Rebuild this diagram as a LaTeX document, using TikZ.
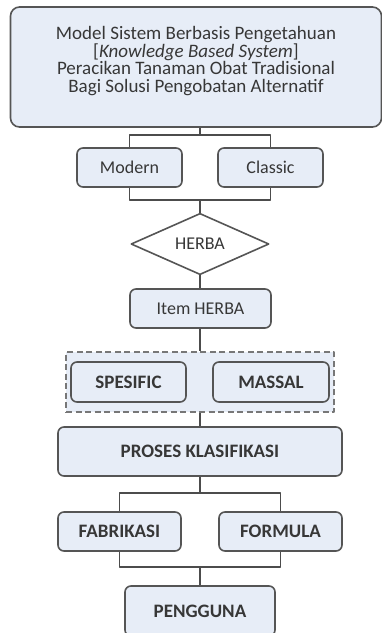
\documentclass[tikz,border=0pt]{standalone}
\usepackage{fontspec}
\setmainfont{Carlito}
\usetikzlibrary{shapes.geometric,positioning}

\begin{document}
\begin{tikzpicture}[x=1pt,y=-1pt,line join=round]
  % Colors
  \definecolor{boxfill}{RGB}{231,237,247}
  \definecolor{boxline}{RGB}{85,85,85}
  \definecolor{textcolor}{RGB}{55,55,55}

  % Styles
  \tikzstyle{box}=[draw=boxline,line width=1.6pt,fill=boxfill,rounded corners=6pt,
    inner sep=0pt,text=textcolor,font=\fontsize{18}{20}\selectfont]
  \tikzstyle{bold box}=[box,font=\fontsize{19}{21}\selectfont\bfseries]
  \tikzstyle{link}=[draw=boxline!90!black,line width=1.7pt]

  \useasboundingbox (0,0) rectangle (382,633);
  \clip (0,0) rectangle (382,633);

  % The graphic
  \node[box,minimum width=371pt,minimum height=120pt,rounded corners=9pt] (model) at (196,67) {};
  \node[align=center,text=textcolor,inner sep=0pt,yshift=6pt,
        font=\fontsize{19}{17.8}\selectfont] (modeltext) at (model.center)
    {Model Sistem Berbasis Pengetahuan\\
     {[}\textit{Knowledge Based System}{]}\\
     Peracikan Tanaman Obat Tradisional\\
     Bagi Solusi Pengobatan Alternatif};

  \node[box,minimum width=105pt,minimum height=39pt] (modern) at (129.5,167.5) {Modern};
  \node[box,minimum width=105pt,minimum height=39pt] (classic) at (270.5,167.5) {Classic};

  \node[diamond,draw=boxline,line width=1.6pt,fill=white,inner sep=0pt,
        minimum width=138pt,minimum height=58pt,text=textcolor,
        font=\fontsize{18}{20}\selectfont] (herba) at (200,244) {HERBA};

  \node[box,minimum width=141pt,minimum height=39pt] (item) at (200.5,308.5) {Item HERBA};

  \node[draw=boxline!80,dashed,dash pattern=on 6pt off 3.5pt,line width=1.7pt,
        fill=boxfill,minimum width=268pt,minimum height=60pt] (group) at (200,382) {};
  \node[bold box,minimum width=115pt,minimum height=40pt] (spesific) at (128.5,382) {SPESIFIC};
  \node[bold box,minimum width=116pt,minimum height=40pt] (massal) at (271,382) {MASSAL};

  \node[bold box,minimum width=284pt,minimum height=49pt] (proses) at (200,451.5) {PROSES KLASIFIKASI};

  \node[bold box,minimum width=123pt,minimum height=39pt] (fabrikasi) at (119.5,531.5) {FABRIKASI};
  \node[bold box,minimum width=123pt,minimum height=39pt] (formula) at (280.5,531.5) {FORMULA};

  \node[bold box,minimum width=150pt,minimum height=50pt] (pengguna) at (200,611) {PENGGUNA};

  % Connectors
  \coordinate (j1) at (200,135);
  \coordinate (j2) at (200,200);
  \coordinate (j3) at (200,493);
  \coordinate (j4) at (200,567);

  \draw[link] (model.south -| j1) -- (j1);
  \draw[link] (modern.north) |- (j1) -| (classic.north);
  \draw[link] (modern.south) |- (j2) -| (classic.south);
  \draw[link] (j2) -- (herba.north);
  \draw[link] (herba.south) -- (item.north -| herba.south);
  \draw[link] (item.south -| group.north) -- (group.north);
  \draw[link] (group.south) -- (proses.north);
  \draw[link] (proses.south) -- (j3);
  \draw[link] (fabrikasi.north) |- (j3) -| (formula.north);
  \draw[link] (fabrikasi.south) |- (j4) -| (formula.south);
  \draw[link] (j4) -- (pengguna.north);
\end{tikzpicture}
\end{document}
